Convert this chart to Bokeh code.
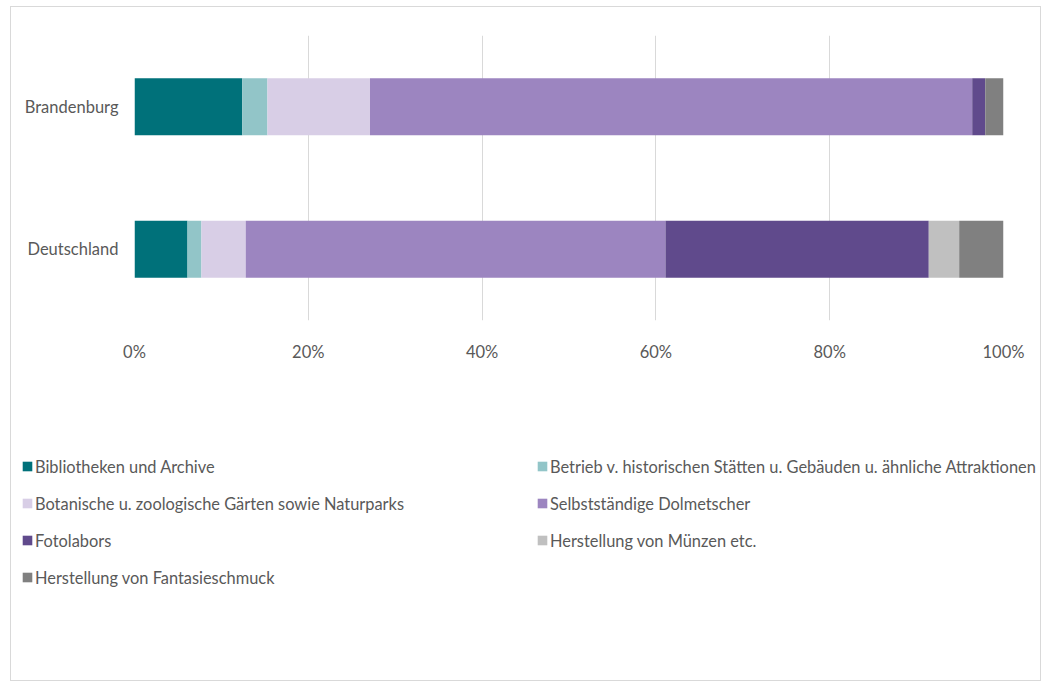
from bokeh.plotting import figure
from bokeh.models import FactorRange, Range1d, NumeralTickFormatter, Legend, LegendItem, FixedTicker, ColumnDataSource
from bokeh.embed import file_html
from bokeh.resources import INLINE

regions = ["Deutschland", "Brandenburg"]
series = [
    "Bibliotheken und Archive",
    "Betrieb v. historischen Stätten u. Gebäuden u. ähnliche Attraktionen",
    "Botanische u. zoologische Gärten sowie Naturparks",
    "Selbstständige Dolmetscher",
    "Fotolabors",
    "Herstellung von Münzen etc.",
    "Herstellung von Fantasieschmuck",
]
# shares in %, order: [Deutschland, Brandenburg]
bibliotheken = [6.1, 12.4]
betrieb = [1.6, 2.9]
botanische = [5.1, 11.8]
dolmetscher = [48.3, 69.3]
fotolabors = [30.3, 1.5]
muenzen = [3.5, 0.0]
fantasieschmuck = [5.1, 2.1]
values = [bibliotheken, betrieb, botanische, dolmetscher, fotolabors, muenzen, fantasieschmuck]
colors = ["#00717A", "#92C5C8", "#D8CEE6", "#9C85C0", "#604A8C", "#C0C0C0", "#808080"]
ticks = [0, 0.2, 0.4, 0.6, 0.8, 1.0]

FONT = "Lato"
TXT = "#595959"
BORDER = "1px solid #d9d9d9"

data = {"region": regions}
for s, v in zip(series, values):
    data[s] = [x / 100 for x in v]
src = ColumnDataSource(data)

# ---- main chart ----
p = figure(width=1031, height=390, y_range=FactorRange(*regions, range_padding=0),
           x_range=Range1d(0, 1), output_backend="svg", toolbar_location=None,
           min_border_left=123, min_border_right=39, min_border_top=28, min_border_bottom=77)
p.styles = {"border-left": BORDER, "border-right": BORDER, "border-top": BORDER}
p.margin = (6, 0, 0, 10)
p.outline_line_color = None
p.hbar_stack(series, y="region", height=0.4, color=colors, source=src, line_color=None)

p.xgrid.ticker = FixedTicker(ticks=ticks)
p.xgrid.grid_line_color = "#d9d9d9"
p.ygrid.grid_line_color = None
p.xaxis.ticker = FixedTicker(ticks=ticks)
p.xaxis.formatter = NumeralTickFormatter(format="0%")
for ax in (p.xaxis[0], p.yaxis[0]):
    ax.axis_line_color = None
    ax.major_tick_line_color = None
    ax.minor_tick_line_color = None
    ax.major_label_text_font = FONT
    ax.major_label_text_font_size = "16.5px"
    ax.major_label_text_color = TXT
p.xaxis.major_label_standoff = 15
p.yaxis.major_label_standoff = 10

# ---- legend panel: same series and colours; its bars have zero height ----
lg = figure(width=1031, height=285, y_range=FactorRange(*regions), x_range=Range1d(2, 3),
            x_axis_type=None, y_axis_type=None, output_backend="svg", toolbar_location=None,
            min_border=0)
lg.styles = {"border-left": BORDER, "border-right": BORDER, "border-bottom": BORDER}
lg.margin = (0, 0, 0, 10)
lg.outline_line_color = None
lg.grid.visible = False
lrends = lg.hbar_stack(series, y="region", height=0, color=colors, source=src, line_color=None)

legend = Legend(items=[LegendItem(label=s, renderers=[r]) for s, r in zip(series, lrends)],
                location=(10, 94), orientation="horizontal", ncols=2,
                glyph_width=12, glyph_height=12, label_standoff=2, label_width=484,
                label_height=20, spacing=17, padding=0, margin=0,
                label_text_font=FONT, label_text_font_size="16.4px", label_text_color=TXT,
                border_line_color=None, background_fill_alpha=0)
lg.add_layout(legend, "center")

open("out.html", "w").write(file_html([p, lg], INLINE))
